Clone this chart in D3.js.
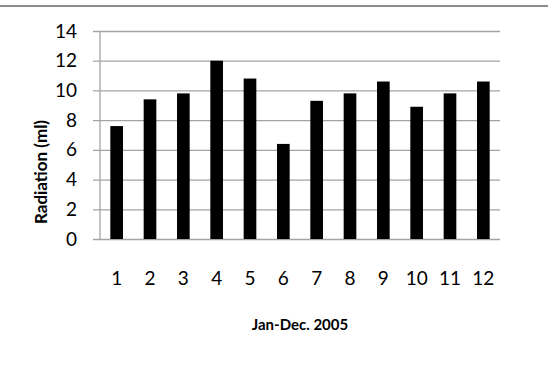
<!DOCTYPE html>
<html>
<head>
<meta charset="utf-8">
<script src="https://cdn.jsdelivr.net/npm/d3@7/dist/d3.min.js"></script>
<style>
  html, body { margin: 0; padding: 0; background: #fff; }
  svg { display: block; }
</style>
</head>
<body>
<svg id="chart" width="548" height="373"></svg>
<script>
// Monthly radiation, January to December 2005
const months = ["1", "2", "3", "4", "5", "6", "7", "8", "9", "10", "11", "12"];
const radiation = [7.6, 9.4, 9.8, 12.0, 10.8, 6.4, 9.3, 9.8, 10.6, 8.9, 9.8, 10.6];
const yTicks = [0, 2, 4, 6, 8, 10, 12, 14];
const xTitle = "Jan-Dec. 2005";
const yTitle = "Radiation (ml)";

const svg = d3.select("#chart");
const W = 548, H = 373;
const plot = { left: 100, right: 500, top: 31, bottom: 239 };

// thin rule across the top of the frame
svg.append("line")
  .attr("x1", 0).attr("x2", W)
  .attr("y1", 6).attr("y2", 6)
  .attr("stroke", "#8c8c8c").attr("stroke-width", 2);

const x = d3.scaleBand()
  .domain(months)
  .range([plot.left, plot.right])
  .paddingInner(0.62)
  .paddingOuter(0.31);

const y = d3.scaleLinear()
  .domain([0, 14])
  .range([plot.bottom, plot.top]);

const gridColor = "#a3a3a3";
const tickFont = "Lato, 'Open Sans', sans-serif";

// horizontal gridlines with short ticks to the left of the axis
const yAxis = d3.axisLeft(y)
  .tickValues(yTicks)
  .tickSize(plot.right - plot.left + 7)
  .tickPadding(16)
  .tickFormat(d3.format("d"));

const gy = svg.append("g")
  .attr("transform", `translate(${plot.right},0)`)
  .call(yAxis);
gy.select(".domain").remove();
gy.selectAll(".tick line").attr("stroke", gridColor).attr("stroke-width", 1.3);
gy.selectAll(".tick text")
  .attr("fill", "#000")
  .style("font-family", tickFont)
  .style("font-size", "19px");

// vertical axis line
svg.append("line")
  .attr("x1", plot.left).attr("x2", plot.left)
  .attr("y1", plot.top).attr("y2", plot.bottom)
  .attr("stroke", gridColor).attr("stroke-width", 1.3);

// bars
svg.append("g")
  .selectAll("rect")
  .data(radiation)
  .join("rect")
  .attr("x", (d, i) => x(months[i]))
  .attr("width", x.bandwidth())
  .attr("y", d => y(d))
  .attr("height", d => y(0) - y(d))
  .attr("fill", "#000");

// category labels
const xAxis = d3.axisBottom(x).tickSize(0).tickPadding(33);
const gx = svg.append("g")
  .attr("transform", `translate(0,${plot.bottom})`)
  .call(xAxis);
gx.select(".domain").remove();
gx.selectAll(".tick text")
  .attr("fill", "#000")
  .style("font-family", tickFont)
  .style("font-size", "19px");

// axis titles
svg.append("text")
  .attr("x", (plot.left + plot.right) / 2)
  .attr("y", 330)
  .attr("text-anchor", "middle")
  .style("font-family", tickFont)
  .style("font-weight", "bold")
  .style("font-size", "15px")
  .text(xTitle);

svg.append("text")
  .attr("transform", "translate(47,172) rotate(-90)")
  .attr("text-anchor", "middle")
  .style("font-family", tickFont)
  .style("font-weight", "bold")
  .style("font-size", "17px")
  .text(yTitle);
</script>
</body>
</html>
